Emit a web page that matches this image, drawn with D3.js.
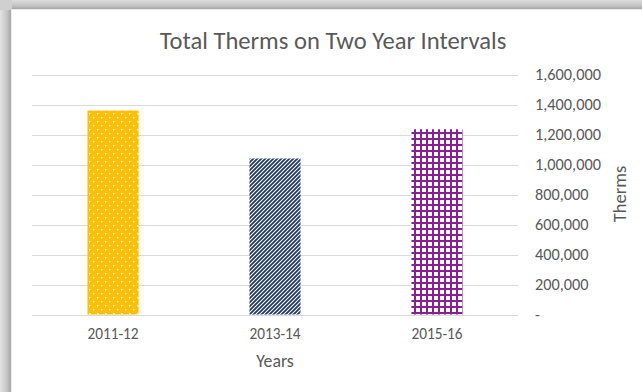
<!DOCTYPE html>
<html><head><meta charset="utf-8">
<script src="https://cdn.jsdelivr.net/npm/d3@7"></script>
<style>html,body{margin:0;padding:0;background:#fff;}svg{display:block;}</style>
</head><body>
<script>
const categories = ["2011-12", "2013-14", "2015-16"];
const therms = [1360000, 1040000, 1235000];
const yTicks = [0, 200000, 400000, 600000, 800000, 1000000, 1200000, 1400000, 1600000];
const title = "Total Therms on Two Year Intervals";
const xTitle = "Years";
const yTitle = "Therms";

const W = 642, H = 392;
const svg = d3.select("body").append("svg").attr("width", W).attr("height", H);
const defs = svg.append("defs");

// shadow gradients
const gl = defs.append("linearGradient").attr("id","gl").attr("x1","0").attr("x2","1").attr("y1","0").attr("y2","0");
gl.append("stop").attr("offset","0").attr("stop-color","#e4e4e4");
gl.append("stop").attr("offset","0.6").attr("stop-color","#c4c4c4");
gl.append("stop").attr("offset","0.85").attr("stop-color","#a9a9a9");
gl.append("stop").attr("offset","1").attr("stop-color","#bdbdbd");
const gt = defs.append("linearGradient").attr("id","gt").attr("x1","0").attr("x2","0").attr("y1","0").attr("y2","1");
gt.append("stop").attr("offset","0").attr("stop-color","#dcdcdc");
gt.append("stop").attr("offset","0.6").attr("stop-color","#c2c2c2");
gt.append("stop").attr("offset","0.85").attr("stop-color","#a9a9a9");
gt.append("stop").attr("offset","1").attr("stop-color","#bdbdbd");

svg.append("rect").attr("x",0).attr("y",0).attr("width",12).attr("height",H).attr("fill","url(#gl)");
svg.append("rect").attr("x",0).attr("y",0).attr("width",W).attr("height",10).attr("fill","url(#gt)");
svg.append("rect").attr("x",0).attr("y",0).attr("width",12).attr("height",10).attr("fill","#d0d0d0");
svg.append("rect").attr("x",12).attr("y",10).attr("width",W-12).attr("height",H-10).attr("fill","#fff");
svg.append("line").attr("x1",11.5).attr("x2",11.5).attr("y1",10).attr("y2",H).attr("stroke","#ececec");
svg.append("line").attr("x1",12).attr("x2",W).attr("y1",9.5).attr("y2",9.5).attr("stroke","#ececec");

// patterns
const p1 = defs.append("pattern").attr("id","pDots").attr("patternUnits","userSpaceOnUse").attr("width",8).attr("height",8);
p1.append("rect").attr("width",8).attr("height",8).attr("fill","#FFC000");
p1.append("rect").attr("x",1).attr("y",1).attr("width",1.5).attr("height",1.5).attr("fill","#fff");
p1.append("rect").attr("x",5).attr("y",5).attr("width",1.5).attr("height",1.5).attr("fill","#fff");

const p2 = defs.append("pattern").attr("id","pDiag").attr("patternUnits","userSpaceOnUse").attr("width",4).attr("height",4);
p2.append("rect").attr("width",4).attr("height",4).attr("fill","#fff");
p2.append("path").attr("d","M-1,1 l2,-2 M0,4 l4,-4 M3,5 l2,-2").attr("stroke","#1F3864").attr("stroke-width",1.8);

const p3 = defs.append("pattern").attr("id","pGrid").attr("patternUnits","userSpaceOnUse").attr("width",6).attr("height",6);
p3.append("rect").attr("width",6).attr("height",6).attr("fill","#fff");
p3.append("rect").attr("x",0).attr("y",0).attr("width",6).attr("height",2).attr("fill","#8A1E94");
p3.append("rect").attr("x",0).attr("y",0).attr("width",2).attr("height",6).attr("fill","#8A1E94");
const fills = ["url(#pDots)", "url(#pDiag)", "url(#pGrid)"];

const x = d3.scaleBand().domain(categories).range([32, 518]).paddingInner(0.685).paddingOuter(0.3425);
const y = d3.scaleLinear().domain([0, 1600000]).range([314.5, 74.5]);

const font = "Calibri, Carlito, Lato, 'Open Sans', sans-serif";
const txt = "#595959";

// grid
svg.append("g").selectAll("line").data(yTicks).join("line")
  .attr("x1", 32).attr("x2", 518)
  .attr("y1", d => Math.round(y(d)) + 0.5).attr("y2", d => Math.round(y(d)) + 0.5)
  .attr("stroke", "#d9d9d9").attr("stroke-width", 1);

// bars
svg.append("g").selectAll("rect").data(categories).join("rect")
  .attr("x", d => x(d)).attr("width", x.bandwidth())
  .attr("y", (d, i) => y(therms[i])).attr("height", (d, i) => y(0) - y(therms[i]))
  .attr("fill", (d, i) => fills[i]);

// right axis
const yAxis = d3.axisRight(y).tickValues(yTicks).tickSize(0).tickPadding(0)
  .tickFormat(d => d === 0 ? "-" : d3.format(",")(d));
const ya = svg.append("g").attr("transform", "translate(535,0)").call(yAxis);
ya.select(".domain").remove();
ya.selectAll("text").attr("fill", txt).style("font-family", font).style("font-size", "16.3px").attr("text-anchor","start");

// bottom axis
const xAxis = d3.axisBottom(x).tickSize(0).tickPadding(14);
const xa = svg.append("g").attr("transform", "translate(0,314.5)").call(xAxis);
xa.select(".domain").remove();
xa.selectAll("text").attr("fill", txt).style("font-family", font).style("font-size", "15.3px");

// titles
svg.append("text").attr("x", 333).attr("y", 48.5).attr("text-anchor", "middle")
  .attr("fill", txt).style("font-family", font).style("font-size", "24.6px").text(title);
svg.append("text").attr("x", 275).attr("y", 367).attr("text-anchor", "middle")
  .attr("fill", txt).style("font-family", font).style("font-size", "17.8px").text(xTitle);
svg.append("text").attr("transform", "translate(626,194) rotate(-90)").attr("text-anchor", "middle")
  .attr("fill", txt).style("font-family", font).style("font-size", "18.5px").text(yTitle);
</script>
</body></html>
